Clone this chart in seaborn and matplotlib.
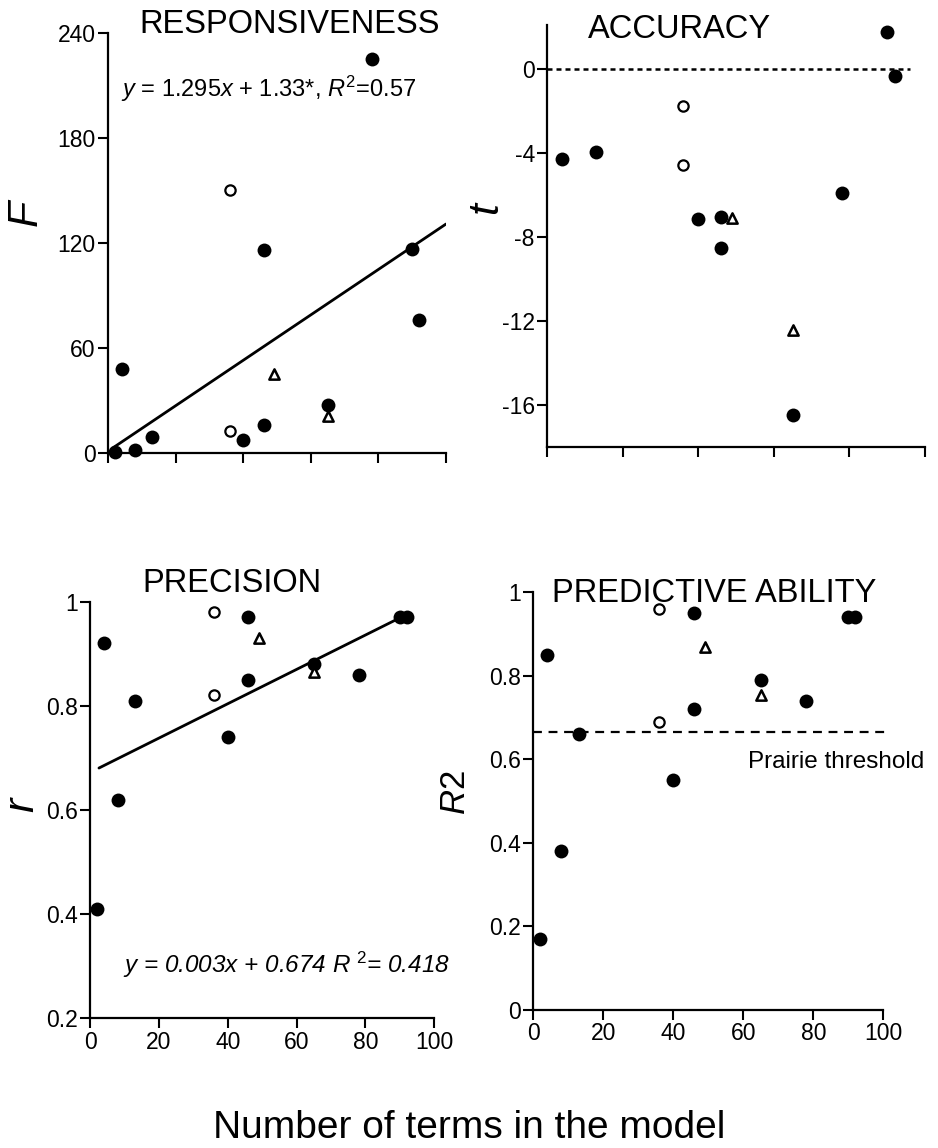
import numpy as np
import pandas as pd
import matplotlib
matplotlib.use("Agg")
import matplotlib.pyplot as plt
import seaborn as sns

# ---------------- data ----------------
terms = [2, 4, 8, 13, 36, 36, 40, 46, 46, 49, 65, 65, 78, 90, 92]
kind = ['filled', 'filled', 'filled', 'filled', 'open', 'open', 'filled',
        'filled', 'filled', 'tri', 'filled', 'tri', 'filled', 'filled', 'filled']

responsiveness_F = [1.0, 48, 2, 9.5, 150, 13, 7.5, 116, 16, 45, 27.5, 21, 225, 116.5, 76]
accuracy_t = [np.nan, -4.3, np.nan, -3.95, -1.75, -4.56, -7.14, -7.06, -8.51, -7.11,
              -16.5, -12.43, -5.89, 1.78, -0.33]
precision_r = [0.41, 0.92, 0.62, 0.81, 0.98, 0.82, 0.74, 0.97, 0.85, 0.93,
               0.88, 0.865, 0.86, 0.97, 0.97]
predictive_R2 = [0.17, 0.85, 0.38, 0.66, 0.96, 0.69, 0.55, 0.95, 0.72, 0.87,
                 0.79, 0.755, 0.74, 0.94, 0.94]

resp_fit = (1.295, 1.33)      # slope, intercept
prec_fit = (0.0033, 0.672)    # slope, intercept (as drawn)
prairie_threshold = 0.666

F_ticks = [0, 60, 120, 180, 240]
t_ticks = [0, -4, -8, -12, -16]
r_ticks = [0.2, 0.4, 0.6, 0.8, 1.0]
r_ticklabels = ['0.2', '0.4', '0.6', '0.8', '1']
R2_ticks = [0, 0.2, 0.4, 0.6, 0.8, 1.0]
R2_ticklabels = ['0', '0.2', '0.4', '0.6', '0.8', '1']
x_ticks = [0, 20, 40, 60, 80, 100]

# ---------------- style ----------------
sns.set_style("ticks")
plt.rcParams['font.family'] = ['Liberation Sans', 'DejaVu Sans']
plt.rcParams['mathtext.fontset'] = 'custom'
plt.rcParams['mathtext.rm'] = 'Liberation Sans'
plt.rcParams['mathtext.it'] = 'Liberation Sans:italic'
plt.rcParams['axes.unicode_minus'] = False
for key in ['text.color', 'axes.labelcolor', 'xtick.color', 'ytick.color', 'axes.edgecolor']:
    plt.rcParams[key] = 'black'

W, H = 938, 1148
fig = plt.figure(figsize=(W / 100, H / 100), dpi=100)


def px_axes(l, r, t, b):
    return fig.add_axes([l / W, 1 - b / H, (r - l) / W, (b - t) / H])


def ftext(x, y, s, **kw):
    return fig.text(x / W, 1 - y / H, s, color='black', **kw)


styles = {
    'filled': dict(marker='o', s=100, color='black', edgecolor='black', linewidth=0),
    'open': dict(marker='o', s=55, color='white', edgecolor='black', linewidth=1.6),
    'tri': dict(marker='^', s=55, color='white', edgecolor='black', linewidth=1.8),
}

TICK_FS = 16.5


def draw_points(ax, yvals):
    df = pd.DataFrame({'x': terms, 'y': yvals, 'kind': kind}).dropna()
    for k in ['filled', 'open', 'tri']:
        sub = df[df['kind'] == k]
        sns.scatterplot(data=sub, x='x', y='y', ax=ax, clip_on=False,
                        zorder=4, legend=False, **styles[k])


def style_axes(ax, show_xlabels):
    sns.despine(ax=ax)
    for sp in ['left', 'bottom']:
        ax.spines[sp].set_linewidth(1.6)
        ax.spines[sp].set_color('black')
    ax.tick_params(direction='out', length=7, width=1.5, colors='black',
                   labelsize=TICK_FS, pad=2)
    ax.set_xlim(0, 100)
    ax.set_xticks(x_ticks)
    if show_xlabels:
        ax.set_xticklabels([str(v) for v in x_ticks])
    else:
        ax.set_xticklabels([])
    ax.set_xlabel('')
    ax.set_ylabel('')
    ax.grid(False)


# ---- Responsiveness ----
ax1 = px_axes(108.3, 446, 32.7, 453.3)
draw_points(ax1, responsiveness_F)
fx = np.array([min(terms) - 0.5, 100])
sns.lineplot(x=fx, y=resp_fit[0] * fx + resp_fit[1], ax=ax1, color='black', lw=2, zorder=3)
ax1.set_ylim(0, 240)
ax1.set_yticks(F_ticks)
ax1.set_yticklabels([str(v) for v in F_ticks])
style_axes(ax1, False)

# ---- Accuracy ----
ax2 = px_axes(547.3, 925, 25, 446.7)
draw_points(ax2, accuracy_t)
ax2.axhline(0, xmin=0, xmax=0.96, color='black', lw=1.8, ls=(0, (2, 1.6)), zorder=2)
ax2.set_ylim(-18, 2.1)
ax2.set_yticks(t_ticks)
ax2.set_yticklabels([str(v) for v in t_ticks])
style_axes(ax2, False)

# ---- Precision ----
ax3 = px_axes(90, 434.3, 601.7, 1018.3)
draw_points(ax3, precision_r)
gx = np.array([min(terms) + 0.6, max(terms) - 2])
sns.lineplot(x=gx, y=prec_fit[0] * gx + prec_fit[1], ax=ax3, color='black', lw=2, zorder=3)
ax3.set_ylim(0.2, 1.0)
ax3.set_yticks(r_ticks)
ax3.set_yticklabels(r_ticklabels)
style_axes(ax3, True)

# ---- Predictive ability ----
ax4 = px_axes(533.3, 883.3, 592.3, 1010)
draw_points(ax4, predictive_R2)
ax4.axhline(prairie_threshold, xmin=0, xmax=1.02, color='black', lw=1.6,
            ls=(0, (4, 3)), clip_on=False, zorder=2)
ax4.set_ylim(0, 1.0)
ax4.set_yticks(R2_ticks)
ax4.set_yticklabels(R2_ticklabels)
style_axes(ax4, True)
ax4.text(61.3, 0.58, 'Prairie threshold', fontsize=17.5, ha='left', va='baseline',
         color='black', clip_on=False)

# ---------------- text ----------------
TITLE_FS = 23.5
ftext(290, 33, 'RESPONSIVENESS', fontsize=TITLE_FS, ha='center', va='baseline')
ftext(679, 38, 'ACCURACY', fontsize=TITLE_FS, ha='center', va='baseline')
ftext(232, 592, 'PRECISION', fontsize=TITLE_FS, ha='center', va='baseline')
ftext(714, 602, 'PREDICTIVE ABILITY', fontsize=TITLE_FS, ha='center', va='baseline')

ftext(121, 97, r'$y$ = 1.295$x$ + 1.33*, $R^{2}$=0.57', fontsize=17,
      ha='left', va='baseline')
ftext(123, 973, r'y = 0.003x + 0.674 R $^{\mathit{2}}$= 0.418', fontsize=17.5,
      style='italic', ha='left', va='baseline')

ftext(26, 213, 'F', fontsize=31, style='italic', rotation=90, ha='center', va='center')
ftext(486, 208, 't', fontsize=31, style='italic', rotation=90, ha='center', va='center')
ftext(22, 805, 'r', fontsize=31, style='italic', rotation=90, ha='center', va='center')
ftext(455, 793, r'$R$2', fontsize=25, rotation=90, ha='center', va='center')

ftext(469, 1138, 'Number of terms in the model', fontsize=28, ha='center', va='baseline')

fig.savefig('out.png', dpi=100, facecolor='white')
